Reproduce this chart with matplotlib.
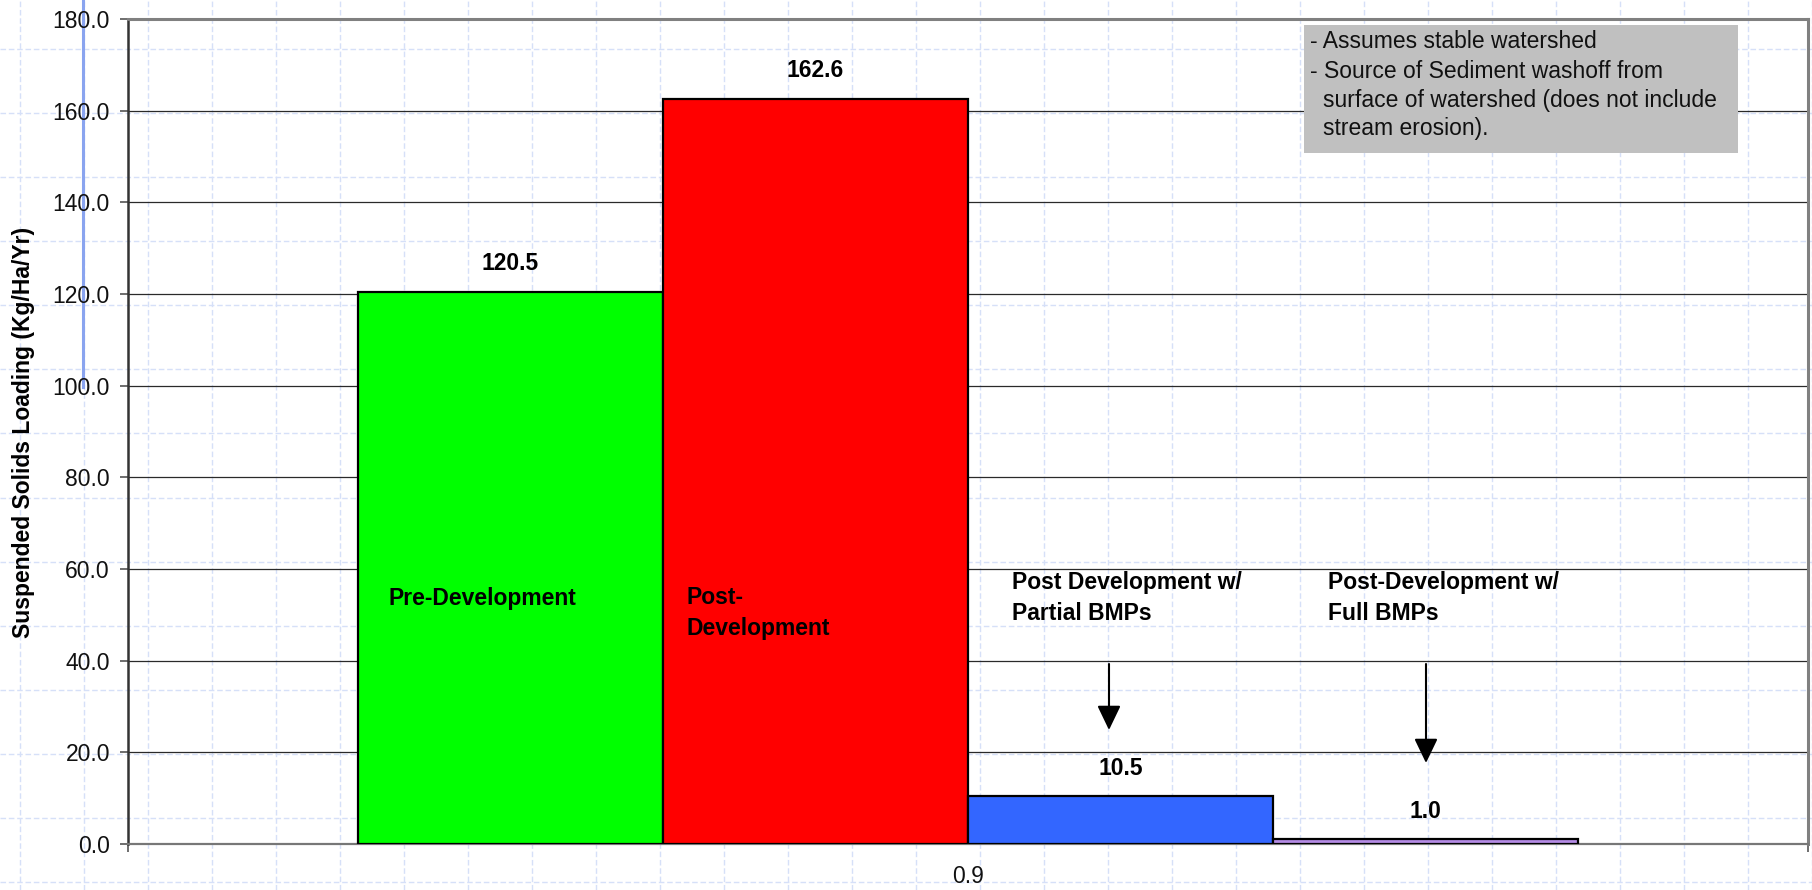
import matplotlib
matplotlib.use("Agg")
import matplotlib.pyplot as plt
from matplotlib.lines import Line2D
from matplotlib.patches import Rectangle
import numpy as np

plt.rcParams['font.family'] = ['Liberation Sans', 'DejaVu Sans']

# ---- data ----
category = "0.9"
series_names = ["Pre-Development", "Post-\nDevelopment",
                "Post Development w/\nPartial BMPs", "Post-Development w/\nFull BMPs"]
values = [120.5, 162.6, 10.5, 1.0]
colors = ["#00FF00", "#FF0000", "#3366FF", "#B58CE6"]
yticks = [0, 20, 40, 60, 80, 100, 120, 140, 160, 180]
ylabel = "Suspended Solids Loading (Kg/Ha/Yr)"
note_lines = ["- Assumes stable watershed", "- Source of Sediment washoff from",
              "surface of watershed (does not include", "stream erosion)."]

W, H = 1812, 890
fig = plt.figure(figsize=(W / 100, H / 100), dpi=100)
fig.patch.set_facecolor("white")

# background dashed slide grid
for k in range(29):
    x = (20 + 64 * k) / W
    fig.add_artist(Line2D([x, x], [0, 1], transform=fig.transFigure, color="#d6e0f8",
                          lw=1.0, ls=(0, (4, 2)), zorder=0))
for k in range(14):
    y = 1 - (49 + 64.08 * k) / H
    fig.add_artist(Line2D([0, 1], [y, y], transform=fig.transFigure, color="#d6e0f8",
                          lw=1.0, ls=(0, (4, 2)), zorder=0))
# blue vertical line on the left
fig.add_artist(Line2D([83 / W, 83 / W], [1, 1 - 387 / H], transform=fig.transFigure,
                      color="#8aa4ef", lw=2.2, zorder=0.5))

L, R, T, B = 128, 1808, 19, 844
ax = fig.add_axes([L / W, 1 - B / H, (R - L) / W, (B - T) / H])
ax.set_zorder(1)
ax.patch.set_alpha(0)

n = len(values)
bw = 305 / (R - L)
xs = 0.5 + (np.arange(n) - (n - 1) / 2) * bw
bars = ax.bar(xs, values, width=bw, color=colors, edgecolor="black", linewidth=1.6, zorder=3)

ax.set_xlim(0, 1)
ax.set_ylim(0, 180)
ax.set_yticks(yticks)
ax.set_yticklabels([f"{v:.1f}" for v in yticks], fontsize=16.5, color="#111111")
ax.yaxis.grid(True, color="#2a2a2a", lw=0.9, zorder=1)
ax.set_axisbelow(True)
ax.tick_params(axis="y", direction="out", length=6, width=1.2, color="#555555", pad=7)

ax.set_xticks([0.5])
ax.set_xticklabels([category], fontsize=16.5, color="#111111")
ax.set_xticks([0, 1], minor=True)
ax.tick_params(axis="x", which="major", length=0, pad=15)
ax.tick_params(axis="x", which="minor", direction="out", length=6, width=1.2, color="#555555")

ax.spines["left"].set_color("#333333")
ax.spines["left"].set_linewidth(1.8)
ax.spines["bottom"].set_color("#777777")
ax.spines["bottom"].set_linewidth(1.6)
for s in ("top", "right"):
    ax.spines[s].set_color("#808080")
    ax.spines[s].set_linewidth(2.2)

# value labels
for x, v in zip(xs, values):
    ax.annotate(f"{v:.1f}", (x, v), xytext=(0, 20), textcoords="offset points",
                ha="center", va="center", fontsize=16.5, fontweight="bold")

# category labels inside the plot
def px2d(px, py):
    return (px - L) / (R - L), (B - py) / (B - T) * 180

label_pos = [(389, 599), (686, 613), (1012, 598), (1328, 598)]
for name, (px, py) in zip(series_names, label_pos):
    x, y = px2d(px, py)
    ax.text(x, y, name, ha="left", va="center", fontsize=16.5, fontweight="bold",
            linespacing=1.4, zorder=5)

# arrows
arrows = [((1109, 664), (1109, 730)), ((1426, 664), (1426, 763))]
for (p0, p1) in arrows:
    ax.annotate("", xy=px2d(*p1), xytext=px2d(*p0),
                arrowprops=dict(arrowstyle="-|>,head_length=0.75,head_width=0.36",
                                mutation_scale=20, color="black", lw=1.5,
                                shrinkA=0, shrinkB=0), zorder=5)

# y label
fig.text(24 / W, 1 - 432 / H, ylabel, rotation=90, ha="center", va="center",
         fontsize=16.5, fontweight="bold", zorder=5)

# note box
fig.add_artist(Rectangle((1304 / W, 1 - 153 / H), (1738 - 1304) / W, (153 - 25) / H,
                         transform=fig.transFigure, facecolor="#C0C0C0", edgecolor="none",
                         zorder=10))
note_x = [1310, 1310, 1323, 1323]
for i, (line, nx) in enumerate(zip(note_lines, note_x)):
    fig.text(nx / W, 1 - (42 + 29 * i) / H, line, ha="left", va="center",
             fontsize=16.5, color="#111111", zorder=11)

fig.savefig("out.png", dpi=100)
